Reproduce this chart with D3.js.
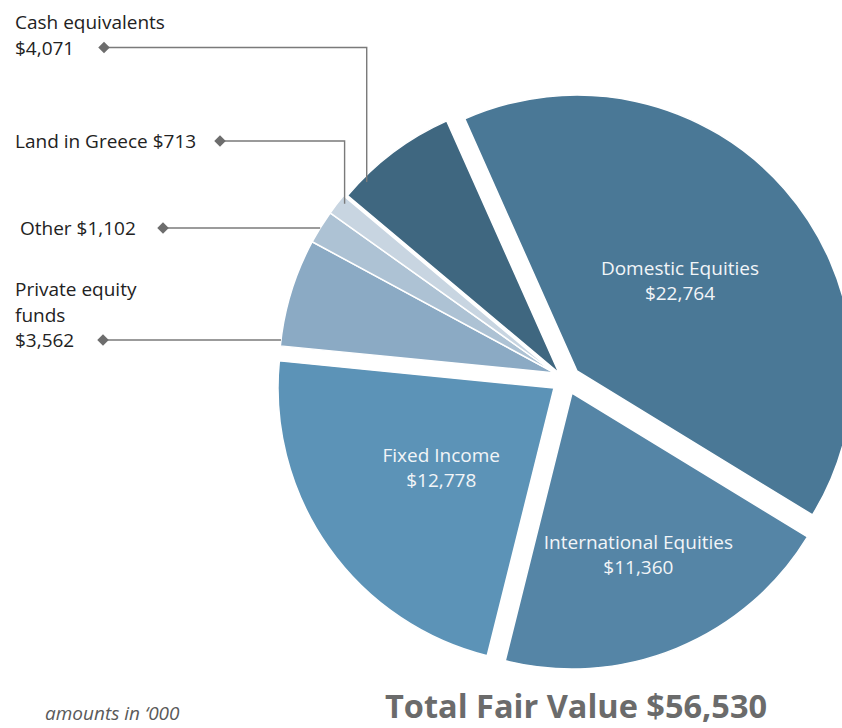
<!DOCTYPE html>
<html>
<head>
<meta charset="utf-8">
<script src="https://cdn.jsdelivr.net/npm/d3@7"></script>
<style>
  html, body { margin: 0; padding: 0; background: #fff; }
  svg { display: block; }
  text { font-family: "Open Sans", "Noto Sans", sans-serif; }
  .inner-label { fill: #f2f5f8; font-size: 19px; }
  .side-label { fill: #222; font-size: 19px; }
  .leader { fill: none; stroke: #7a7a7a; stroke-width: 1.4; }
  .marker { fill: #6d6d6d; }
  .note { fill: #5a5a5a; font-size: 19px; font-style: italic; }
  .total { fill: #6b6b6b; font-size: 32.5px; font-weight: 700; }
</style>
</head>
<body>
<div id="chart"></div>
<script>
// Fair value of plan assets, amounts in '000

const categories = [
  "Domestic Equities",
  "International Equities",
  "Fixed Income",
  "Private equity funds",
  "Other",
  "Land in Greece",
  "Cash equivalents"
];
const values = [22764, 11360, 12778, 3562, 1102, 713, 4071];
const colors = ["#4a7896", "#5585a6", "#5c93b7", "#8baac4", "#adc2d4", "#c8d5e1", "#3f6780"];
const totalValue = 56530;

const WIDTH = 842;
const HEIGHT = 728;

// pie geometry (hand tuned to the reference)
const cx = 555;
const cy = 373;
const R = 276;
const deg = Math.PI / 180;
// each slice is pulled away from the centre a bit
const explode = [[22, -2], [17, 20], [-1, 15], [0, 0], [0, 0], [0, 0], [4, 0]];
// label distance from the slice apex, for the three big slices
const innerLabelR = { 0: 137, 1: 175, 2: 138 };

// side labels for the small slices
const sideLabels = {
  6: { lines: ["Cash equivalents", "$"], x: 15, y: 29, marker: 104, t: 0.185, r: 271 },
  5: { lines: ["Land in Greece $"], x: 15, y: 148, marker: 220, t: 0.74, r: 270 },
  4: { lines: ["Other $"], x: 20, y: 235, marker: 163, flat: true },
  3: { lines: ["Private equity", "funds", "$"], x: 15, y: 296, marker: 103, flat: true }
};
const lineH = 25.5;

const fmt = d3.format(",");
const data = categories.map((c, i) => ({ name: c, value: values[i], color: colors[i], idx: i }));

const svg = d3.select("#chart")
  .append("svg")
  .attr("width", WIDTH)
  .attr("height", HEIGHT);

const pie = d3.pie()
  .sort(null)
  .value(d => d.value)
  .startAngle(-24 * deg)
  .endAngle(336 * deg);

const arcs = pie(data);

const arc = d3.arc().innerRadius(0).outerRadius(R);

// ---- slices ----
const slices = svg.append("g")
  .selectAll("g")
  .data(arcs)
  .join("g")
  .attr("transform", d => `translate(${cx + explode[d.index][0]},${cy + explode[d.index][1]})`);

slices.append("path")
  .attr("d", arc)
  .attr("fill", d => d.data.color)
  .attr("stroke", "#fff")
  .attr("stroke-width", 1.5)
  .attr("stroke-linejoin", "round");

// ---- labels inside the big slices ----
slices.filter(d => innerLabelR[d.index] != null)
  .each(function (d) {
    const lr = innerLabelR[d.index];
    const [lx, ly] = d3.arc().innerRadius(lr).outerRadius(lr).centroid(d);
    const t = d3.select(this).append("text")
      .attr("class", "inner-label")
      .attr("text-anchor", "middle");
    t.append("tspan").attr("x", lx).attr("y", ly - 6).text(d.data.name);
    t.append("tspan").attr("x", lx).attr("y", ly + 19.5).text("$" + fmt(d.data.value));
  });

// ---- side labels with leader lines ----
const side = svg.append("g");

arcs.filter(d => sideLabels[d.index]).forEach(d => {
  const s = sideLabels[d.index];
  const n = s.lines.length;
  const lines = s.lines.map(l => l.endsWith("$") ? l + fmt(d.data.value) : l);

  const t = side.append("text")
    .attr("class", "side-label");
  lines.forEach((l, k) => {
    t.append("tspan").attr("x", s.x).attr("y", s.y + k * lineH).text(l);
  });

  const my = s.y + (n - 1) * lineH - 7;
  const ox = cx + explode[d.index][0];
  const oy = cy + explode[d.index][1];

  let ax, ay;
  if (s.flat) {
    // leader runs straight to the rim of the slice
    ax = ox - Math.sqrt(R * R - (my - oy) * (my - oy));
    ay = my;
  } else {
    const a = d.startAngle + s.t * (d.endAngle - d.startAngle);
    ax = ox + s.r * Math.sin(a);
    ay = oy - s.r * Math.cos(a);
  }

  const path = d3.path();
  path.moveTo(s.marker, my);
  path.lineTo(ax, my);
  path.lineTo(ax, ay);
  side.append("path").attr("class", "leader").attr("d", path.toString());

  side.append("path")
    .attr("class", "marker")
    .attr("d", d3.symbol(d3.symbolDiamond2, 85)())
    .attr("transform", `translate(${s.marker},${my})`);
});

// ---- footer ----
svg.append("text")
  .attr("class", "note")
  .attr("x", 45)
  .attr("y", 720)
  .text("amounts in \u2018000");

svg.append("text")
  .attr("class", "total")
  .attr("x", 385)
  .attr("y", 718)
  .text("Total Fair Value $" + fmt(totalValue));
</script>
</body>
</html>
